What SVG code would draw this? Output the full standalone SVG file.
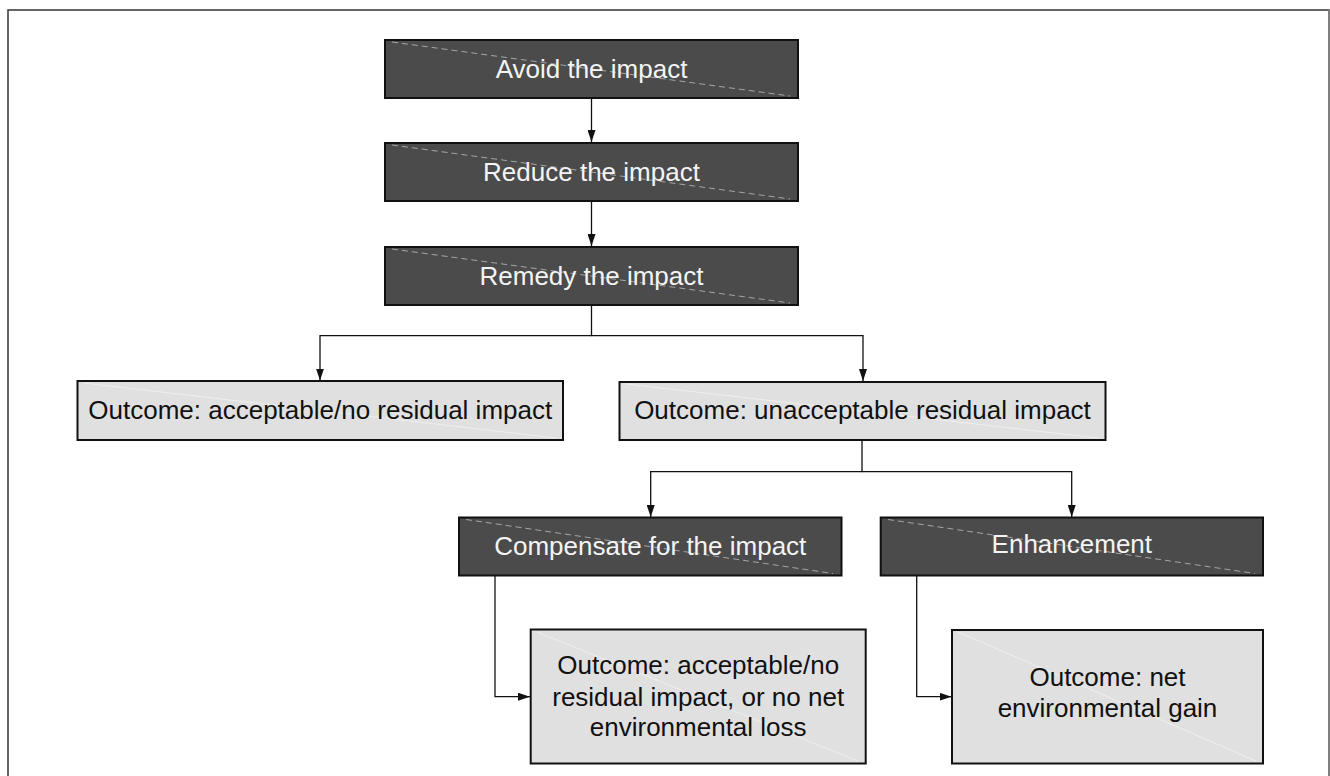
<svg xmlns="http://www.w3.org/2000/svg" width="1330" height="776" viewBox="0 0 1330 776">
<defs>
<style>
.dark rect{fill:#4b4b4b;stroke:#111;stroke-width:2}
.dark line{stroke:#bdbdbd;stroke-width:0.8;stroke-dasharray:6 4}
.dark text{fill:#f4f4f4}
.light rect{fill:#e0e0e0;stroke:#111;stroke-width:2}
.light line{stroke:#f2f2f2;stroke-width:0.8}
.light text{fill:#111}
text{font-family:"Liberation Sans",Arial,sans-serif;font-size:26px;text-anchor:middle}
.conn path{fill:none;stroke:#111;stroke-width:1.3}
</style>
<marker id="ah" viewBox="0 0 12 8" refX="12" refY="4" markerWidth="12" markerHeight="8" markerUnits="userSpaceOnUse" orient="auto">
<path d="M0,0 L12,4 L0,8 Z" fill="#111"/>
</marker>
</defs>
<rect x="0" y="0" width="1330" height="776" fill="#fff"/>
<rect x="8" y="10" width="1321" height="800" fill="none" stroke="#333" stroke-width="1.5"/>
<line x1="1329" y1="10" x2="1329" y2="776" stroke="#888" stroke-width="1.5"/>

<g class="conn">
<path d="M591.5,98 V142" marker-end="url(#ah)"/>
<path d="M591.5,201 V246" marker-end="url(#ah)"/>
<path d="M591.5,305 V335.7 H320 V380.5" marker-end="url(#ah)"/>
<path d="M591.5,335.7 H863 V381" marker-end="url(#ah)"/>
<path d="M862,440 V471.7 H650.7 V517" marker-end="url(#ah)"/>
<path d="M862,471.7 H1071.7 V517" marker-end="url(#ah)"/>
<path d="M495,576 V696.7 H530" marker-end="url(#ah)"/>
<path d="M916.7,576 V696.7 H951.5" marker-end="url(#ah)"/>
</g>

<g id="avoid" class="dark">
<rect x="385" y="40" width="413" height="58"/>
<line x1="392" y1="42" x2="790" y2="96"/>
<text x="591.5" y="77.5">Avoid the impact</text>
</g>
<g id="reduce" class="dark">
<rect x="385" y="143" width="413" height="58"/>
<line x1="392" y1="145" x2="790" y2="199"/>
<text x="591.5" y="181">Reduce the impact</text>
</g>
<g id="remedy" class="dark">
<rect x="385" y="247" width="413" height="58"/>
<line x1="392" y1="249" x2="790" y2="303"/>
<text x="591.5" y="284.5">Remedy the impact</text>
</g>
<g id="outcome-acceptable" class="light">
<rect x="77.5" y="381" width="485.5" height="59"/>
<line x1="84" y1="383" x2="556" y2="438"/>
<text x="320.25" y="418.5">Outcome: acceptable/no residual impact</text>
</g>
<g id="outcome-unacceptable" class="light">
<rect x="619.5" y="382" width="486" height="58"/>
<line x1="626" y1="384" x2="1098" y2="438"/>
<text x="862.5" y="419">Outcome: unacceptable residual impact</text>
</g>
<g id="compensate" class="dark">
<rect x="459" y="517.5" width="382.5" height="58"/>
<line x1="466" y1="519.5" x2="833" y2="573.5"/>
<text x="650.25" y="555">Compensate for the impact</text>
</g>
<g id="enhancement" class="dark">
<rect x="880.7" y="517.5" width="382.3" height="58"/>
<line x1="888" y1="519.5" x2="1255" y2="573.5"/>
<text x="1071.85" y="553">Enhancement</text>
</g>
<g id="outcome-noloss" class="light">
<rect x="530.7" y="629.5" width="335" height="134"/>
<line x1="537" y1="632" x2="858" y2="761"/>
<text x="698.2" y="674">Outcome: acceptable/no</text>
<text x="698.2" y="705.5">residual impact, or no net</text>
<text x="698.2" y="735.5">environmental loss</text>
</g>
<g id="outcome-gain" class="light">
<rect x="952" y="630" width="311" height="133.5"/>
<line x1="958" y1="632" x2="1256" y2="761"/>
<text x="1107.5" y="686">Outcome: net</text>
<text x="1107.5" y="717">environmental gain</text>
</g>
</svg>
